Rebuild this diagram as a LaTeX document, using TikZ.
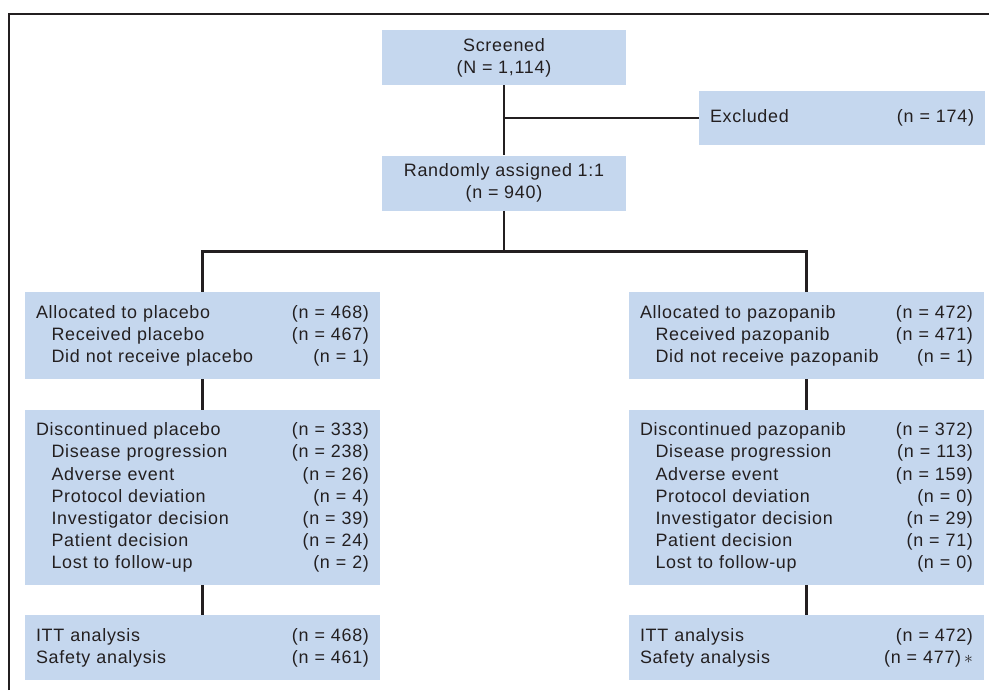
\documentclass[tikz,border=0pt]{standalone}
\usepackage{fontspec}
\setmainfont{Liberation Sans}[LetterSpace=4]
\definecolor{boxblue}{HTML}{C5D7EE}
\definecolor{ink}{HTML}{231F20}
\newcommand{\toprow}[2]{#1\hfill#2}
\newcommand{\subrow}[2]{\hspace*{0.31cm}#1\hfill#2}

\begin{document}
\begin{tikzpicture}[x=0.02cm, y=-0.02cm,
    stage/.style={fill=boxblue, text=ink, font=\fontsize{10.2}{12.6}\selectfont,
      inner sep=0pt, minimum width=4.88cm, minimum height=1.1cm, align=center},
    arm/.style={fill=boxblue, text=ink, font=\fontsize{10.2}{12.6}\selectfont,
      inner xsep=0.22cm, inner ysep=0pt, text width=6.66cm, align=left},
    link/.style={draw=ink, line width=1.5pt}]
    \useasboundingbox (0,0) rectangle (989,690);
    % frame
    \draw[ink, line width=0.8pt] (9,690) -- (9,14) -- (989,14);

    \node[stage] (scr) at (504,57.5) {Screened\\(N = 1,114)};
    \node[stage] (rand) at (504,183) {Randomly assigned 1:1\\(n = 940)};
    \node[arm, text width=5.28cm, minimum height=1.1cm] (excl) at (842,118)
        {\toprow{Excluded}{(n = 174)}};

    % placebo arm
    \node[arm, minimum height=1.74cm] (alp) at (202.5,335.5) {%
        \toprow{Allocated to placebo}{(n = 468)}\\
        \subrow{Received placebo}{(n = 467)}\\
        \subrow{Did not receive placebo}{(n = 1)}};
    \node[arm, minimum height=3.5cm] (dcp) at (202.5,497.5) {%
        \toprow{Discontinued placebo}{(n = 333)}\\
        \subrow{Disease progression}{(n = 238)}\\
        \subrow{Adverse event}{(n = 26)}\\
        \subrow{Protocol deviation}{(n = 4)}\\
        \subrow{Investigator decision}{(n = 39)}\\
        \subrow{Patient decision}{(n = 24)}\\
        \subrow{Lost to follow-up}{(n = 2)}};
    \node[arm, minimum height=1.3cm] (ittp) at (202.5,647.5) {%
        \toprow{ITT analysis}{(n = 468)}\\
        \toprow{Safety analysis}{(n = 461)}};

    % pazopanib arm
    \node[arm, minimum height=1.74cm] (alz) at (806.5,335.5) {%
        \toprow{Allocated to pazopanib}{(n = 472)}\\
        \subrow{Received pazopanib}{(n = 471)}\\
        \subrow{Did not receive pazopanib}{(n = 1)}};
    \node[arm, minimum height=3.5cm] (dcz) at (806.5,497.5) {%
        \toprow{Discontinued pazopanib}{(n = 372)}\\
        \subrow{Disease progression}{(n = 113)}\\
        \subrow{Adverse event}{(n = 159)}\\
        \subrow{Protocol deviation}{(n = 0)}\\
        \subrow{Investigator decision}{(n = 29)}\\
        \subrow{Patient decision}{(n = 71)}\\
        \subrow{Lost to follow-up}{(n = 0)}};
    \node[arm, minimum height=1.3cm] (ittz) at (806.5,647.5) {%
        \toprow{ITT analysis}{(n = 472)}\\
        \toprow{Safety analysis}{(n = 477)\,$\ast$}};

    % connectors
    \coordinate (split) at (504,251.5);
    \draw[link] (scr) -- (rand);
    \draw[link] (scr.south |- excl.west) -- (excl.west);
    \draw[link] (rand) -- (split);
    \draw[link] (alp.north) |- (split) -| (alz.north);
    \draw[link] (alp) -- (dcp);
    \draw[link] (dcp) -- (ittp);
    \draw[link] (alz) -- (dcz);
    \draw[link] (dcz) -- (ittz);
\end{tikzpicture}
\end{document}
